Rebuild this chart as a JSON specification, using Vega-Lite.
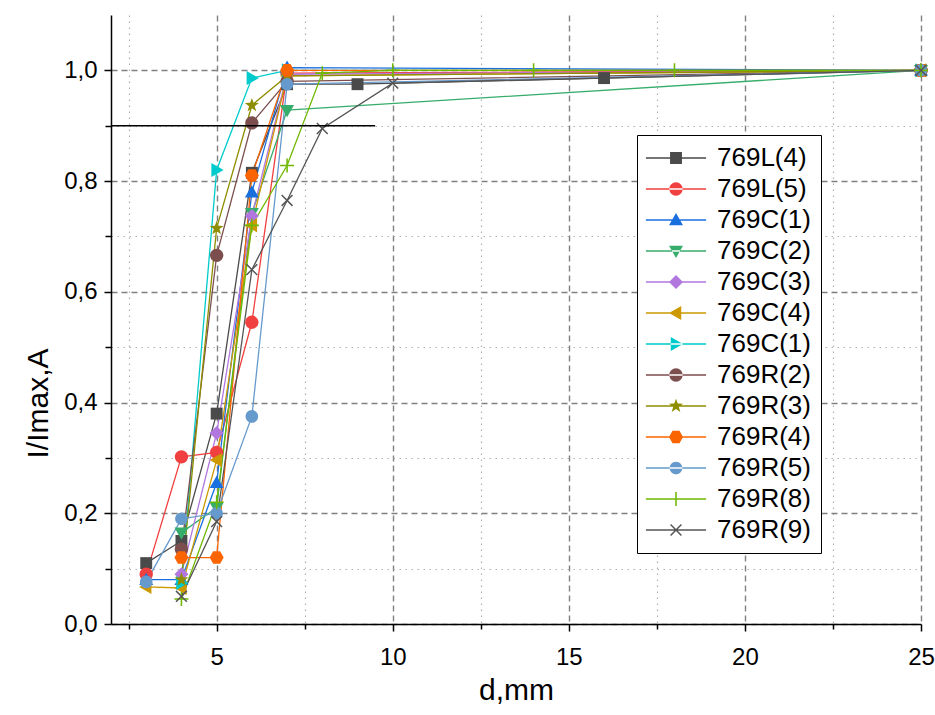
{
  "$schema": "https://vega.github.io/schema/vega-lite/v6.json",
  "width": 810,
  "height": 609,
  "autosize": "none",
  "padding": {"left": 111, "top": 15, "right": 14, "bottom": 91},
  "background": "white",
  "config": {"view": {"stroke": null}, "font": "Liberation Sans"},
  "datasets": {
    "pts": [
      {"s": "L4", "x": 3, "y": 0.11}, {"s": "L4", "x": 4, "y": 0.15}, {"s": "L4", "x": 5, "y": 0.38}, {"s": "L4", "x": 6, "y": 0.815}, {"s": "L4", "x": 7, "y": 0.975}, {"s": "L4", "x": 9, "y": 0.975}, {"s": "L4", "x": 16, "y": 0.986}, {"s": "L4", "x": 25, "y": 1.0},
      {"s": "L5", "x": 3, "y": 0.09}, {"s": "L5", "x": 4, "y": 0.302}, {"s": "L5", "x": 5, "y": 0.31}, {"s": "L5", "x": 6, "y": 0.545}, {"s": "L5", "x": 7, "y": 0.995}, {"s": "L5", "x": 25, "y": 1.0},
      {"s": "C1", "x": 3, "y": 0.08}, {"s": "C1", "x": 4, "y": 0.08}, {"s": "C1", "x": 5, "y": 0.255}, {"s": "C1", "x": 6, "y": 0.78}, {"s": "C1", "x": 7, "y": 1.005}, {"s": "C1", "x": 25, "y": 1.0},
      {"s": "C2", "x": 4, "y": 0.165}, {"s": "C2", "x": 5, "y": 0.21}, {"s": "C2", "x": 6, "y": 0.742}, {"s": "C2", "x": 7, "y": 0.928}, {"s": "C2", "x": 25, "y": 1.0},
      {"s": "C3", "x": 4, "y": 0.09}, {"s": "C3", "x": 5, "y": 0.345}, {"s": "C3", "x": 6, "y": 0.737}, {"s": "C3", "x": 7, "y": 0.993}, {"s": "C3", "x": 25, "y": 1.0},
      {"s": "C4", "x": 3, "y": 0.067}, {"s": "C4", "x": 4, "y": 0.065}, {"s": "C4", "x": 5, "y": 0.296}, {"s": "C4", "x": 6, "y": 0.72}, {"s": "C4", "x": 7, "y": 0.99}, {"s": "C4", "x": 25, "y": 1.0},
      {"s": "C1b", "x": 4, "y": 0.074}, {"s": "C1b", "x": 5, "y": 0.82}, {"s": "C1b", "x": 6, "y": 0.986}, {"s": "C1b", "x": 7, "y": 1.0}, {"s": "C1b", "x": 25, "y": 1.0},
      {"s": "R2", "x": 4, "y": 0.135}, {"s": "R2", "x": 5, "y": 0.666}, {"s": "R2", "x": 6, "y": 0.905}, {"s": "R2", "x": 7, "y": 0.98}, {"s": "R2", "x": 25, "y": 1.0},
      {"s": "R3", "x": 4, "y": 0.08}, {"s": "R3", "x": 5, "y": 0.715}, {"s": "R3", "x": 6, "y": 0.937}, {"s": "R3", "x": 7, "y": 0.99}, {"s": "R3", "x": 25, "y": 1.0},
      {"s": "R4", "x": 4, "y": 0.12}, {"s": "R4", "x": 5, "y": 0.12}, {"s": "R4", "x": 6, "y": 0.81}, {"s": "R4", "x": 7, "y": 1.0}, {"s": "R4", "x": 25, "y": 1.0},
      {"s": "R5", "x": 3, "y": 0.076}, {"s": "R5", "x": 4, "y": 0.19}, {"s": "R5", "x": 5, "y": 0.2}, {"s": "R5", "x": 6, "y": 0.375}, {"s": "R5", "x": 7, "y": 0.975}, {"s": "R5", "x": 25, "y": 1.0},
      {"s": "R8", "x": 4, "y": 0.045}, {"s": "R8", "x": 5, "y": 0.22}, {"s": "R8", "x": 6, "y": 0.72}, {"s": "R8", "x": 7, "y": 0.828}, {"s": "R8", "x": 8, "y": 0.995}, {"s": "R8", "x": 10, "y": 1.0}, {"s": "R8", "x": 14, "y": 1.0}, {"s": "R8", "x": 18, "y": 1.0}, {"s": "R8", "x": 25, "y": 1.0},
      {"s": "R9", "x": 4, "y": 0.05}, {"s": "R9", "x": 5, "y": 0.185}, {"s": "R9", "x": 6, "y": 0.64}, {"s": "R9", "x": 7, "y": 0.765}, {"s": "R9", "x": 8, "y": 0.895}, {"s": "R9", "x": 10, "y": 0.977}, {"s": "R9", "x": 25, "y": 1.0}
    ],
    "ref": [{"x": 2, "x2": 9.5, "y": 0.9}]
  },
  "layer": [
    {
      "data": {"name": "pts"},
      "mark": {"type": "line", "strokeWidth": 1.3},
      "encoding": {
        "x": {"field": "x", "type": "quantitative", "scale": {"domain": [2, 25], "nice": false, "zero": false},
          "axis": {"orient": "bottom", "values": [5, 10, 15, 20, 25], "title": "d,mm", "grid": true, "gridColor": "#808080", "gridDash": [6, 4], "gridWidth": 1.4, "tickSize": 7, "tickWidth": 1.5, "tickColor": "black", "domainColor": "black", "domainWidth": 1.5, "labelFontSize": 24, "labelColor": "black", "labelPadding": 14, "labelFont": "Liberation Sans", "labelFlush": false, "labelOverlap": false, "titleFont": "Liberation Sans", "titleFontSize": 30, "titleFontWeight": "normal", "titleColor": "black", "titlePadding": 6}},
        "y": {"field": "y", "type": "quantitative", "scale": {"domain": [0, 1.1], "nice": false, "zero": true},
          "axis": {"orient": "left", "values": [0, 0.2, 0.4, 0.6, 0.8, 1.0], "labelExpr": "replace(format(datum.value, '.1f'), '.', ',')", "title": "I/Imax,A", "titleY": 388, "grid": true, "gridColor": "#808080", "gridDash": [6, 4], "gridWidth": 1.4, "tickSize": 7, "tickWidth": 1.5, "tickColor": "black", "domainColor": "black", "domainWidth": 1.5, "labelFontSize": 24, "labelColor": "black", "labelPadding": 7, "labelFont": "Liberation Sans", "labelFlush": false, "labelOverlap": false, "titleFont": "Liberation Sans", "titleFontSize": 30, "titleFontWeight": "normal", "titleColor": "black", "titlePadding": 10}},
        "stroke": {"field": "s", "type": "nominal",
          "scale": {"domain": ["L4", "L5", "C1", "C2", "C3", "C4", "C1b", "R2", "R3", "R4", "R5", "R8", "R9"],
            "range": ["#4a4a4a", "#f0403f", "#1a6fdf", "#37ad6b", "#b177de", "#cc9900", "#00cbcc", "#7d4e4e", "#8e8e00", "#fb6501", "#6699cc", "#6fb802", "#555555"]},
          "legend": null}
      }
    },
    {
      "data": {"name": "pts"},
      "mark": {"type": "point", "filled": true, "size": 196, "opacity": 1},
      "encoding": {
        "x": {"field": "x", "type": "quantitative",
          "axis": {"orient": "bottom", "values": [2.5, 7.5, 12.5, 17.5, 22.5], "title": null, "labels": false, "grid": true, "gridColor": "#b0b0b0", "gridDash": [1.5, 4.5], "gridWidth": 1.2, "tickSize": 5, "tickWidth": 1.5, "tickColor": "black", "domain": false}},
        "y": {"field": "y", "type": "quantitative",
          "axis": {"orient": "left", "values": [0.1, 0.3, 0.5, 0.7, 0.9], "title": null, "labels": false, "grid": true, "gridColor": "#b0b0b0", "gridDash": [1.5, 4.5], "gridWidth": 1.2, "tickSize": 6, "tickWidth": 1.5, "tickColor": "black", "domain": false}},
        "color": {"field": "s", "type": "nominal",
          "scale": {"domain": ["L4", "L5", "C1", "C2", "C3", "C4", "C1b", "R2", "R3", "R4", "R5", "R8", "R9", "769L(4)", "769L(5)", "769C(1)", "769C(2)", "769C(3)", "769C(4)", "769C(1)#2", "769R(2)", "769R(3)", "769R(4)", "769R(5)", "769R(8)", "769R(9)"],
            "range": ["#4a4a4a", "#f0403f", "#1a6fdf", "#37ad6b", "#b177de", "#cc9900", "#00cbcc", "#7d4e4e", "#8e8e00", "#fb6501", "#6699cc", "#6fb802", "#555555", "#4a4a4a", "#f0403f", "#1a6fdf", "#37ad6b", "#b177de", "#cc9900", "#00cbcc", "#7d4e4e", "#8e8e00", "#fb6501", "#6699cc", "#6fb802", "#555555"]},
          "legend": {"values": ["769L(4)", "769L(5)", "769C(1)", "769C(2)", "769C(3)", "769C(4)", "769C(1)#2", "769R(2)", "769R(3)", "769R(4)", "769R(5)", "769R(8)", "769R(9)"], "title": null, "orient": "none", "legendX": 526, "legendY": 120, "labelExpr": "replace(datum.label, '#2', '')", "labelFontSize": 26, "labelFont": "Liberation Sans", "labelColor": "black", "symbolSize": 196, "symbolOffset": 16, "labelOffset": 28, "rowPadding": 5, "padding": 10, "strokeColor": "black", "fillColor": "white", "labelLimit": 300}},
        "shape": {"field": "s", "type": "nominal",
          "scale": {"domain": ["L4", "L5", "C1", "C2", "C3", "C4", "C1b", "R2", "R3", "R4", "R5", "R8", "R9", "769L(4)", "769L(5)", "769C(1)", "769C(2)", "769C(3)", "769C(4)", "769C(1)#2", "769R(2)", "769R(3)", "769R(4)", "769R(5)", "769R(8)", "769R(9)"],
            "range": [
              "M-0.85,-0.85H0.85V0.85H-0.85Z",
              "M-0.95,0A0.95,0.95,0,1,0,0.95,0A0.95,0.95,0,1,0,-0.95,0Z",
              "M0,-1L1,0.75H-1Z",
              "M0,1L1,-0.75H-1Z",
              "M0,-1L1,0L0,1L-1,0Z",
              "M-1,0L0.75,-1V1Z",
              "M1,0L-0.75,-1V1Z",
              "M-0.95,0A0.95,0.95,0,1,0,0.95,0A0.95,0.95,0,1,0,-0.95,0Z",
              "M0,-1.05L0.25,-0.34L1,-0.32L0.4,0.13L0.62,0.86L0,0.43L-0.62,0.86L-0.4,0.13L-1,-0.32L-0.25,-0.34Z",
              "M-0.5,-0.9H0.5L1,0L0.5,0.9H-0.5L-1,0Z",
              "M-0.9,0A0.9,0.9,0,1,0,0.9,0A0.9,0.9,0,1,0,-0.9,0Z",
              "M-0.11,-1H0.11V-0.11H1V0.11H0.11V1H-0.11V0.11H-1V-0.11H-0.11Z",
              "M-0.85,-0.7L-0.7,-0.85L0.85,0.7L0.7,0.85Z M-0.85,0.7L0.7,-0.85L0.85,-0.7L-0.7,0.85Z",
              "M-4.3,-0.1H4.3V0.1H-4.3Z M-0.85,-0.85H0.85V0.85H-0.85Z",
              "M-4.3,-0.1H4.3V0.1H-4.3Z M-0.95,0A0.95,0.95,0,1,0,0.95,0A0.95,0.95,0,1,0,-0.95,0Z",
              "M-4.3,-0.1H4.3V0.1H-4.3Z M0,-1L1,0.75H-1Z",
              "M-4.3,-0.1H4.3V0.1H-4.3Z M0,1L1,-0.75H-1Z",
              "M-4.3,-0.1H4.3V0.1H-4.3Z M0,-1L1,0L0,1L-1,0Z",
              "M-4.3,-0.1H4.3V0.1H-4.3Z M-1,0L0.75,-1V1Z",
              "M-4.3,-0.1H4.3V0.1H-4.3Z M1,0L-0.75,-1V1Z",
              "M-4.3,-0.1H4.3V0.1H-4.3Z M-0.95,0A0.95,0.95,0,1,0,0.95,0A0.95,0.95,0,1,0,-0.95,0Z",
              "M-4.3,-0.1H4.3V0.1H-4.3Z M0,-1.05L0.25,-0.34L1,-0.32L0.4,0.13L0.62,0.86L0,0.43L-0.62,0.86L-0.4,0.13L-1,-0.32L-0.25,-0.34Z",
              "M-4.3,-0.1H4.3V0.1H-4.3Z M-0.5,-0.9H0.5L1,0L0.5,0.9H-0.5L-1,0Z",
              "M-4.3,-0.1H4.3V0.1H-4.3Z M-0.9,0A0.9,0.9,0,1,0,0.9,0A0.9,0.9,0,1,0,-0.9,0Z",
              "M-4.3,-0.1H4.3V0.1H-4.3Z M-0.11,-1H0.11V1H-0.11Z",
              "M-4.3,-0.1H4.3V0.1H-4.3Z M-0.85,-0.7L-0.7,-0.85L0.85,0.7L0.7,0.85Z M-0.85,0.7L0.7,-0.85L0.85,-0.7L-0.7,0.85Z"
            ]},
          "legend": {"values": ["769L(4)", "769L(5)", "769C(1)", "769C(2)", "769C(3)", "769C(4)", "769C(1)#2", "769R(2)", "769R(3)", "769R(4)", "769R(5)", "769R(8)", "769R(9)"], "title": null, "orient": "none", "legendX": 526, "legendY": 120, "labelExpr": "replace(datum.label, '#2', '')", "labelFontSize": 26, "labelFont": "Liberation Sans", "labelColor": "black", "symbolSize": 196, "symbolOffset": 16, "labelOffset": 28, "rowPadding": 5, "padding": 10, "strokeColor": "black", "fillColor": "white", "labelLimit": 300}}
      }
    },
    {
      "data": {"name": "ref"},
      "mark": {"type": "rule", "color": "black", "strokeWidth": 1.5},
      "encoding": {
        "x": {"field": "x", "type": "quantitative", "axis": null},
        "x2": {"field": "x2"},
        "y": {"field": "y", "type": "quantitative", "axis": null}
      }
    }
  ],
  "resolve": {"axis": {"x": "independent", "y": "independent"}}
}
